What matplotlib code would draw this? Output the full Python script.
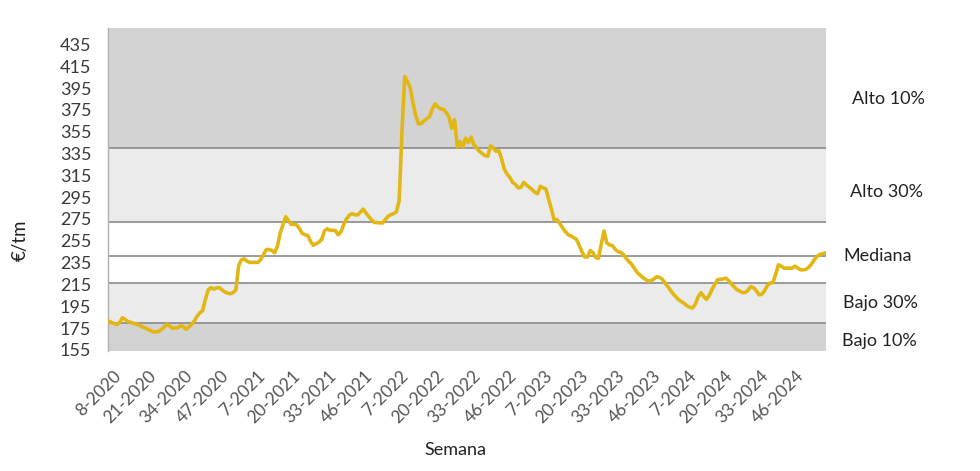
import matplotlib
matplotlib.use("Agg")
import matplotlib.pyplot as plt
import matplotlib.transforms as mtransforms

plt.rcParams['font.family'] = ['Lato', 'DejaVu Sans']

# --- data -------------------------------------------------------------
start_week, start_year = 8, 2020
weeks_in_year = {2020: 53, 2021: 52, 2022: 52, 2023: 52, 2024: 52, 2025: 52}

prices = [
    181.5, 180.2, 179.2, 178.3, 180.0, 184.5, 183.0, 181.0, 180.2, 179.5,
    178.6, 177.8, 176.4, 175.3, 174.3, 173.0, 171.6, 171.5, 171.8, 173.5,
    175.6, 178.5, 177.0, 175.0, 175.0, 175.3, 177.0, 176.5, 173.8, 176.0,
    178.5, 181.5, 186.0, 189.0, 191.0, 201.5, 210.0, 212.0, 210.8, 211.8,
    212.0, 210.0, 208.2, 207.0, 206.5, 207.5, 210.0, 232.0, 237.5, 238.5,
    236.3, 235.2, 235.2, 235.2, 235.2, 238.0, 242.5, 247.0, 246.9, 246.2,
    244.0, 250.0, 262.0, 269.5, 277.0, 273.5, 269.9, 270.2, 269.5, 266.0,
    261.7, 260.5, 259.8, 254.3, 250.9, 252.3, 253.8, 256.3, 264.0, 266.0,
    264.6, 264.6, 264.2, 260.4, 263.5, 270.2, 275.2, 278.5, 279.8, 278.8,
    278.7, 281.3, 284.0, 280.5, 277.3, 274.2, 271.8, 271.6, 271.4, 271.3,
    274.5, 277.5, 278.9, 279.9, 281.5, 292.0, 355.0, 405.5, 401.0, 395.0,
    381.0, 369.5, 362.0, 362.4, 365.0, 367.0, 368.8, 376.0, 380.5, 377.5,
    375.8, 375.4, 372.5, 368.5, 358.0, 366.0, 341.0, 346.0, 341.0, 349.0,
    345.0, 350.0, 343.0, 340.0, 337.0, 335.0, 333.0, 332.5, 342.0, 340.0,
    337.0, 337.5, 330.0, 320.5, 316.0, 313.0, 308.5, 306.5, 303.5, 304.0,
    308.6, 306.0, 304.0, 302.0, 299.5, 298.2, 304.9, 303.5, 302.5, 293.0,
    284.0, 274.0, 274.3, 271.0, 267.0, 263.5, 260.8, 259.5, 258.0, 256.5,
    251.0, 245.0, 240.2, 240.1, 246.0, 244.0, 239.6, 239.0, 252.0, 264.0,
    253.0, 251.3, 250.6, 247.4, 245.0, 244.5, 242.3, 238.9, 236.0, 233.4,
    229.5, 226.0, 223.5, 221.4, 219.7, 218.0, 218.5, 219.9, 222.0, 221.6,
    219.9, 216.5, 213.2, 209.8, 206.3, 203.6, 200.9, 199.2, 197.5, 195.4,
    194.0, 193.4, 197.0, 203.5, 207.5, 204.0, 201.3, 204.8, 210.3, 215.0,
    219.3, 219.6, 220.0, 220.7, 218.5, 215.5, 212.8, 210.3, 208.9, 207.6,
    207.6, 209.5, 213.0, 212.0, 209.3, 205.5, 206.0, 209.2, 214.0, 216.3,
    216.7, 224.0, 233.0, 231.8, 229.9, 229.9, 229.9, 229.9, 231.8, 230.0,
    228.4, 228.4, 228.8, 230.8, 233.8, 237.7, 241.0, 242.3, 243.2, 243.8,
]

# percentile bands (€/tm)
bajo10 = 180.1
bajo30 = 216.2
mediana = 241.3
alto30 = 271.9
alto10 = 340.4

band_labels = ["Alto 10%", "Alto 30%", "Mediana", "Bajo 30%", "Bajo 10%"]
yticks = list(range(155, 436, 20))

# week labels
weeks = []
w, y = start_week, start_year
for _ in prices:
    weeks.append(f"{w}-{y}")
    w += 1
    if w > weeks_in_year[y]:
        w, y = 1, y + 1
tick_every = 13
tick_idx = list(range(0, 248, tick_every))
tick_labels = [weeks[i] for i in tick_idx]

# --- figure -----------------------------------------------------------
fig = plt.figure(figsize=(9.8, 4.71), dpi=100)
ax = fig.add_axes([108/980, 1-351/471, 718/980, 323/471])

ymin, ymax = 154, 450
xmin, xmax = -0.2, len(prices) - 0.8
dark = "#d3d3d3"
light = "#ebebeb"
ax.axhspan(ymin, bajo10, color=dark, lw=0, zorder=0)
ax.axhspan(bajo10, bajo30, color=light, lw=0, zorder=0)
ax.axhspan(bajo30, alto30, color="white", lw=0, zorder=0)
ax.axhspan(alto30, alto10, color=light, lw=0, zorder=0)
ax.axhspan(alto10, ymax, color=dark, lw=0, zorder=0)
for v in [bajo10, bajo30, mediana, alto30, alto10]:
    ax.axhline(v, color="#8a8a8a", lw=1.2, zorder=1)

ax.plot(range(len(prices)), prices, color="#e2b714", lw=2.6, zorder=3,
        solid_joinstyle="round")

ax.set_xlim(xmin, xmax)
ax.set_ylim(ymin, ymax)
ax.tick_params(axis="both", length=0)
ax.tick_params(axis="x", pad=12)
ax.tick_params(axis="y", pad=12)
ax.set_yticks(yticks)
ax.set_yticklabels([str(t) for t in yticks], fontsize=13, color="#3a3a3a")
ax.set_xticks(tick_idx)
ax.set_xticklabels(tick_labels, rotation=45, ha="right", va="top",
                   rotation_mode="anchor", fontsize=12.5, color="#555555")
shift = mtransforms.ScaledTranslation(4/100, 0, fig.dpi_scale_trans)
for lbl in ax.get_xticklabels():
    lbl.set_transform(lbl.get_transform() + shift)
for s in ["top", "right", "bottom"]:
    ax.spines[s].set_visible(False)
ax.spines["left"].set_color("#b0b0b0")
ax.spines["left"].set_linewidth(1.0)

# band labels to the right
label_pos = [(852, 384.5), (850, 300), (843, mediana), (843, 198), (842, 163)]
for txt, (px, yv) in zip(band_labels, label_pos):
    ax.text((px - 108) / 718, yv, txt, transform=ax.get_yaxis_transform(),
            ha="left", va="center", fontsize=13, color="#222222")

fig.text(455/980, 1-450/471, "Semana", ha="center", va="center",
         fontsize=13, color="#222222")
fig.text(20/980, 1-240/471, "€/tm", ha="center", va="center",
         rotation=90, fontsize=13.5, color="#222222")

fig.savefig("out.png", dpi=100)
